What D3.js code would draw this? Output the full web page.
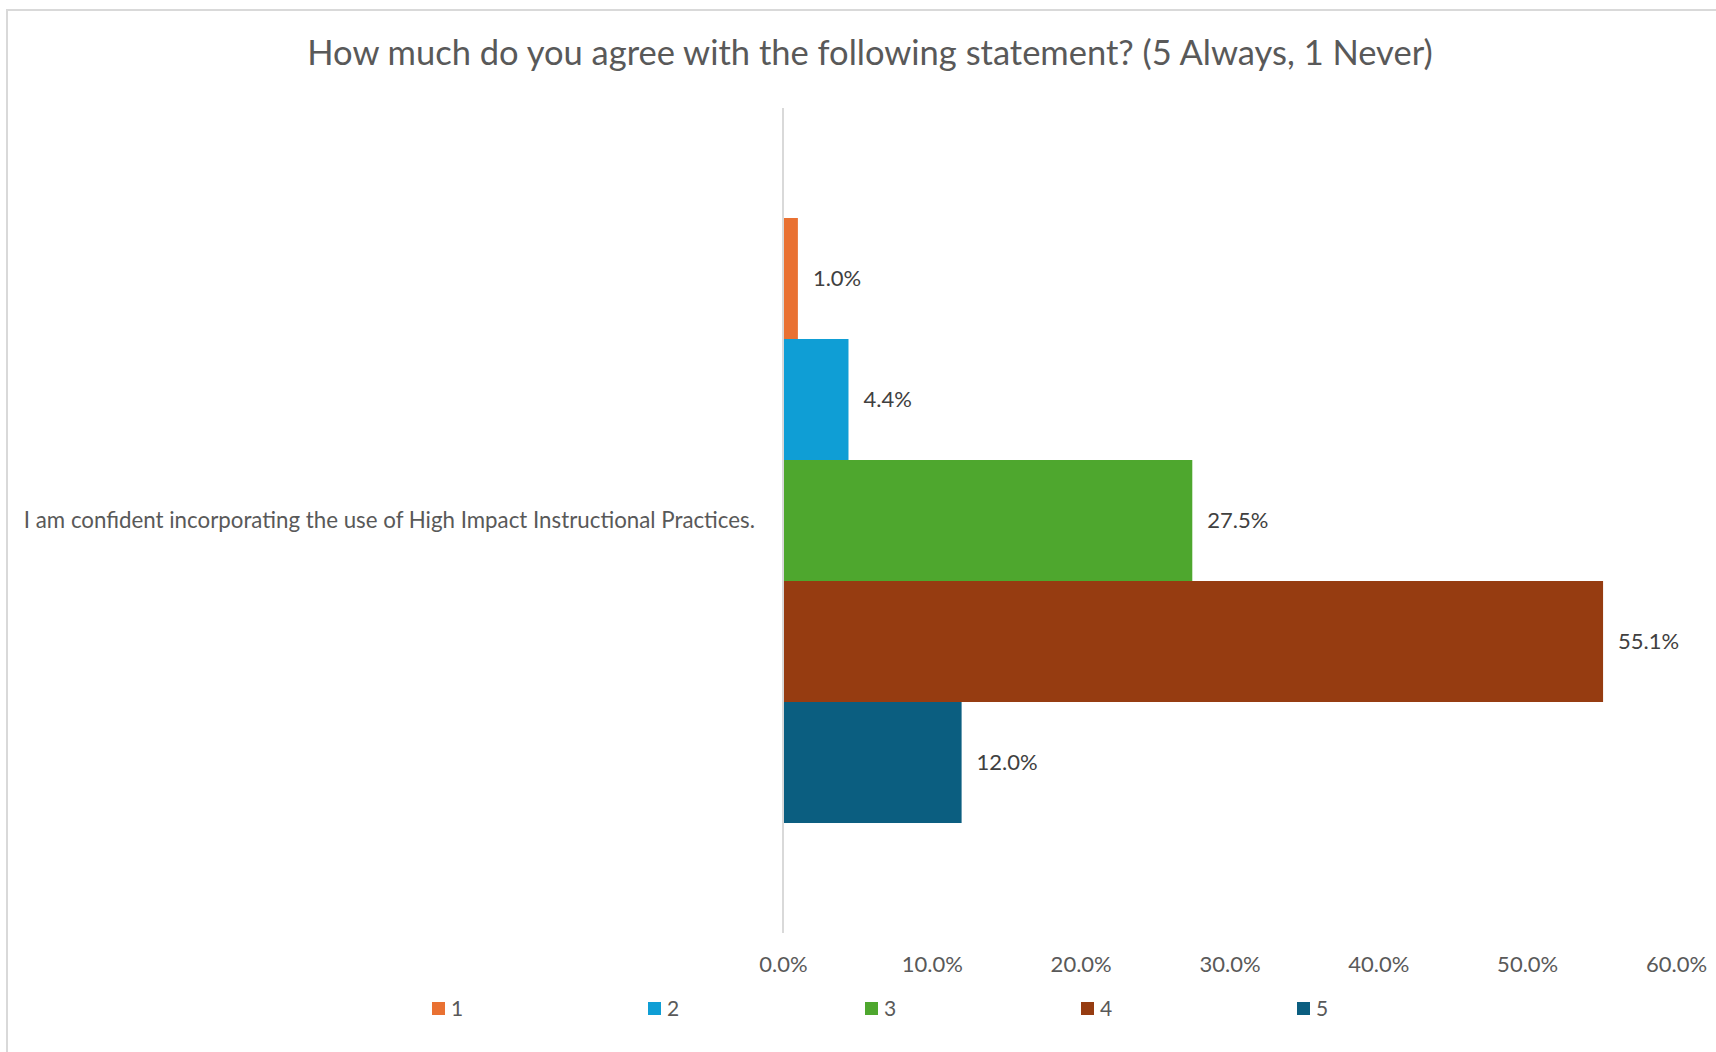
<!DOCTYPE html>
<html>
<head>
<meta charset="utf-8">
<script src="https://cdn.jsdelivr.net/npm/d3@7"></script>
<style>
  html, body { margin: 0; padding: 0; background: #ffffff; }
  svg { display: block; }
  text { font-family: Lato, "Open Sans", sans-serif; }
</style>
</head>
<body>
<svg id="chart" width="1716" height="1052"></svg>
<script>
// ---- data ----
const title = "How much do you agree with the following statement? (5 Always, 1 Never)";
const categories = ["I am confident incorporating the use of High Impact Instructional Practices."];
const seriesNames = ["1", "2", "3", "4", "5"];
const seriesValues = [1.0, 4.4, 27.5, 55.1, 12.0];
const seriesColors = ["#E97132", "#0F9ED5", "#4EA72E", "#963C11", "#0B5E80"];
const xTicks = [0, 10, 20, 30, 40, 50, 60];

// ---- layout ----
const W = 1716, H = 1052;
const plot = { left: 783, right: 1676, top: 108, bottom: 933 };
const svg = d3.select("#chart");

// chart border (left + top visible)
svg.append("rect")
  .attr("x", 7).attr("y", 10)
  .attr("width", W + 20).attr("height", H + 20)
  .attr("fill", "#ffffff").attr("stroke", "#d9d9d9").attr("stroke-width", 2);

// title
svg.append("text")
  .attr("x", 870).attr("y", 65)
  .attr("text-anchor", "middle")
  .attr("font-size", 34.5)
  .attr("fill", "#595959")
  .text(title);

const x = d3.scaleLinear().domain([0, 60]).range([plot.left, plot.right]);
const y0 = d3.scaleBand().domain(categories).range([plot.top, plot.bottom])
  .paddingInner(0).paddingOuter(0.1818);
const y1 = d3.scaleBand().domain(seriesNames).range([0, y0.bandwidth()]).padding(0);

// x axis labels (no line)
const xAxis = d3.axisBottom(x).tickValues(xTicks)
  .tickFormat(d => d.toFixed(1) + "%").tickSize(0).tickPadding(0);
const gx = svg.append("g").attr("transform", `translate(0,${plot.bottom + 23})`).call(xAxis);
gx.select(".domain").remove();
gx.selectAll("text")
  .attr("font-family", "Lato, 'Open Sans', sans-serif")
  .attr("font-size", 22).attr("fill", "#595959")
  .attr("dy", "0.71em");

// bars
const g = svg.append("g");
categories.forEach(cat => {
  const gc = g.append("g").attr("transform", `translate(0,${y0(cat)})`);
  gc.selectAll("rect").data(seriesNames).join("rect")
    .attr("x", x(0))
    .attr("y", d => y1(d))
    .attr("width", (d, i) => x(seriesValues[i]) - x(0))
    .attr("height", y1.bandwidth())
    .attr("fill", (d, i) => seriesColors[i]);
  gc.selectAll("text.val").data(seriesNames).join("text")
    .attr("class", "val")
    .attr("x", (d, i) => x(seriesValues[i]) + 15)
    .attr("y", d => y1(d) + y1.bandwidth() / 2)
    .attr("dy", "0.35em")
    .attr("font-size", 22).attr("fill", "#404040")
    .text((d, i) => seriesValues[i].toFixed(1) + "%");
});

// y axis (category axis line + label)
const yAxis = d3.axisLeft(y0).tickSize(0).tickPadding(28);
const gy = svg.append("g").attr("transform", `translate(${plot.left},0)`).call(yAxis);
gy.select(".domain").attr("stroke", "#d9d9d9").attr("stroke-width", 2)
  .attr("d", `M0,${plot.top}V${plot.bottom}`);
gy.selectAll("text")
  .attr("font-family", "Lato, 'Open Sans', sans-serif")
  .attr("font-size", 22.3).attr("fill", "#595959");

// legend
const legendX = [432, 648, 865, 1081, 1297];
const lg = svg.append("g");
seriesNames.forEach((s, i) => {
  lg.append("rect").attr("x", legendX[i]).attr("y", 1002)
    .attr("width", 13).attr("height", 13).attr("fill", seriesColors[i]);
  lg.append("text").attr("x", legendX[i] + 19).attr("y", 1009)
    .attr("dy", "0.35em").attr("font-size", 21).attr("fill", "#595959").text(s);
});
</script>
</body>
</html>
